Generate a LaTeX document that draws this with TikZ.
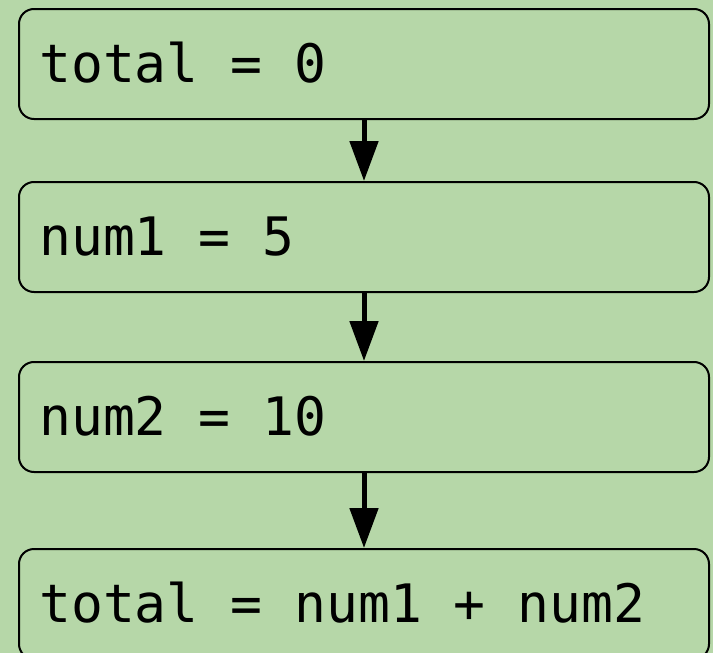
\documentclass[tikz,border=0pt]{standalone}
\usepackage{fontspec}
\setmonofont{DejaVu Sans Mono}
\usetikzlibrary{arrows.meta}
\definecolor{bg}{HTML}{B6D7A8}
\begin{document}
\begin{tikzpicture}[x=1pt,y=-1pt,
  box/.style={draw=black, line width=2pt, fill=bg, rounded corners=15pt,
    minimum width=690pt, minimum height=110pt, inner sep=0pt, anchor=north west},
  code/.style={font=\ttfamily\fontsize{53}{60}\selectfont, inner sep=0pt,
    anchor=base west, xshift=21pt, yshift=-18.5pt},
  flow/.style={line width=5pt, -{Triangle[length=40pt,width=28pt]}}]
\fill[bg] (0,0) rectangle (713,653);
\useasboundingbox (0,0) rectangle (713,653);
\begin{scope}
  \clip (0,0) rectangle (713,653);
  \node[box] (b1) at (18,8) {};
  \node[box] (b2) at (18,181) {};
  \node[box] (b3) at (18,361) {};
  \node[box] (b4) at (18,548) {};
  \node[code] (t1) at (b1.west) {total = 0};
  \node[code] (t2) at (b2.west) {num1 = 5};
  \node[code] (t3) at (b3.west) {num2 = 10};
  \node[code] (t4) at (b4.west) {total = num1 + num2};
\end{scope}
\draw[flow] (b1) -- (b2);
\draw[flow] (b2) -- (b3);
\draw[flow] (b3) -- (b4);
\end{tikzpicture}
\end{document}
